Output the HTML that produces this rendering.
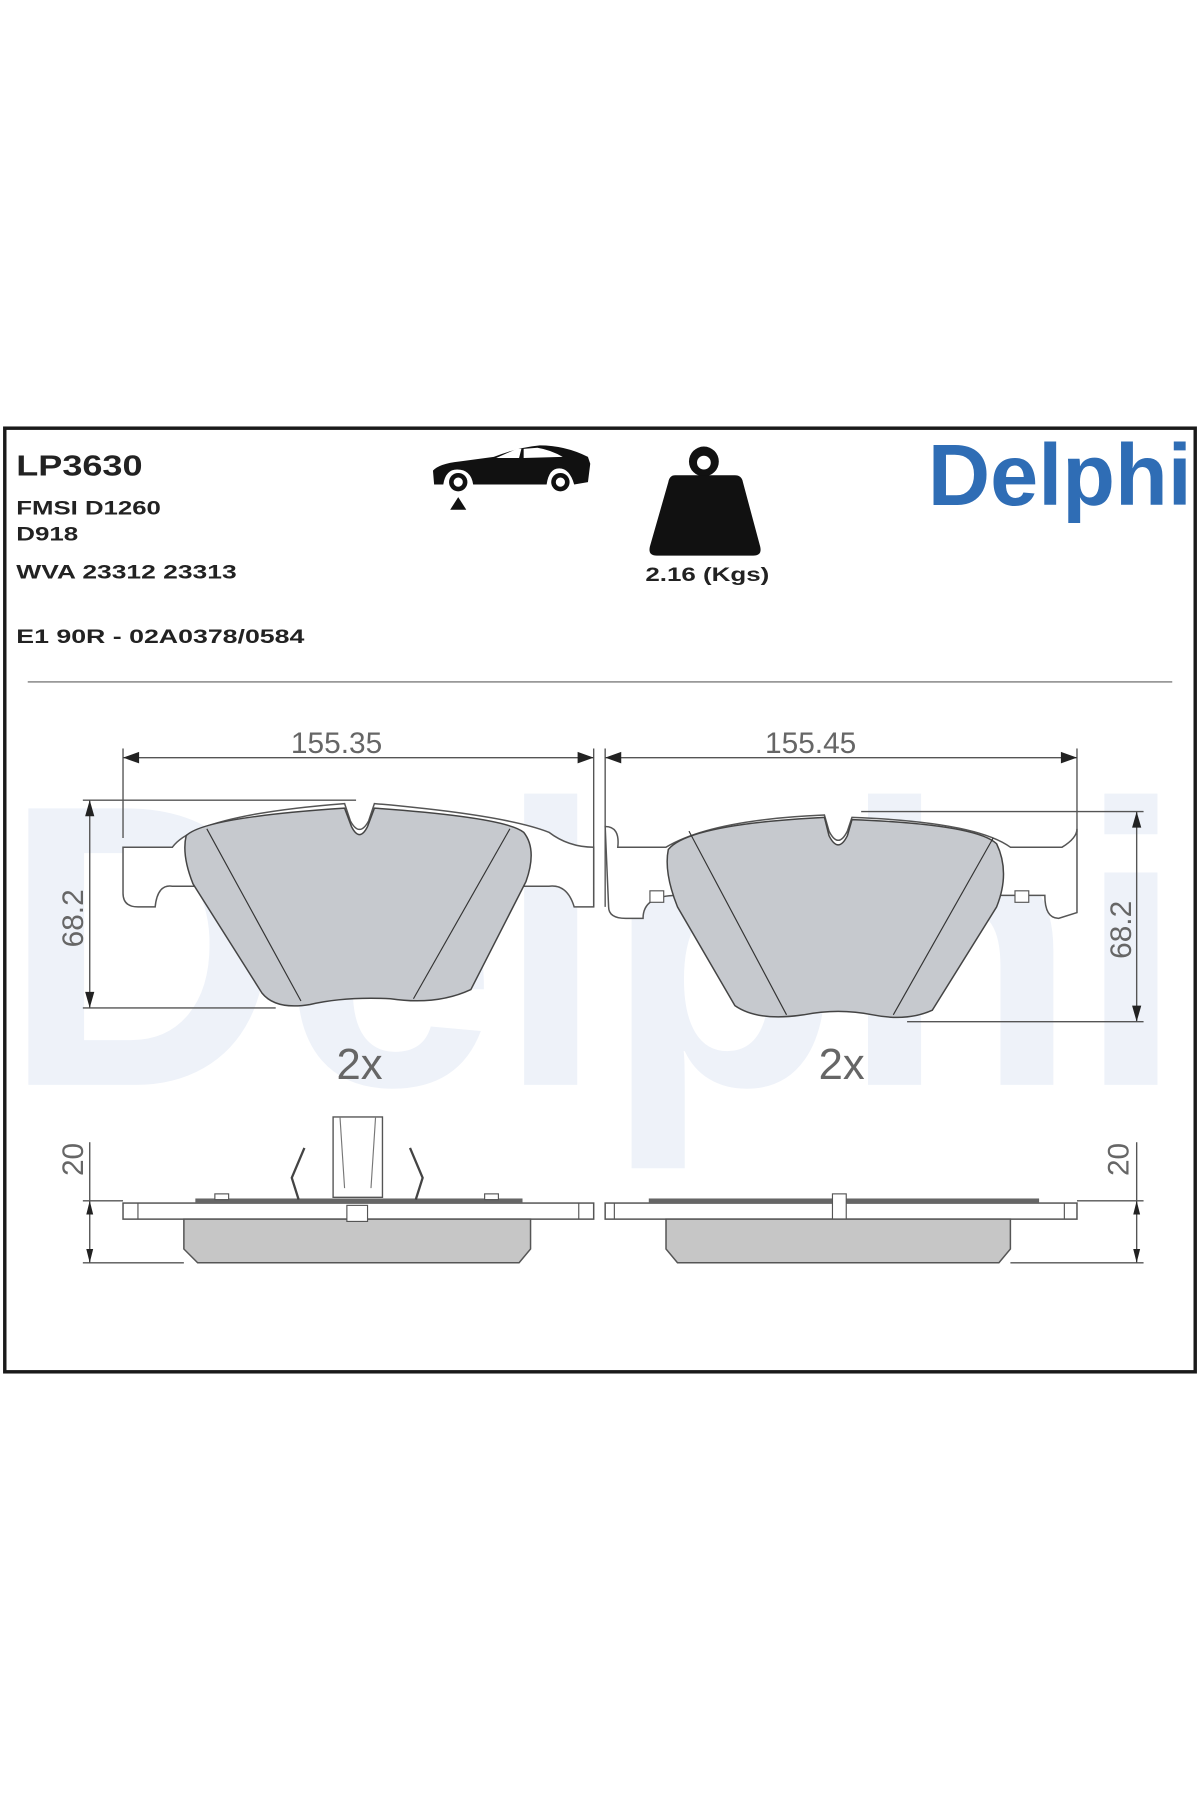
<!DOCTYPE html>
<html><head><meta charset="utf-8"><style>
html,body{margin:0;padding:0;background:#fff;}
svg{display:block;}
</style></head><body>
<svg width="1200" height="1800" viewBox="0 0 1045 1568" xmlns="http://www.w3.org/2000/svg" font-family="Liberation Sans, sans-serif">
<rect width="1045" height="1568" fill="#fff"/>
<!-- watermark -->
<text x="2" y="945" font-size="350" font-weight="bold" fill="#eef2f9" textLength="1030" lengthAdjust="spacingAndGlyphs">Delphi</text>
<!-- border -->
<rect x="4" y="373" width="1037" height="822" fill="none" stroke="#1a1a1a" stroke-width="3"/>
<!-- header texts -->
<g font-weight="bold" fill="#222">
<text x="14" y="414" font-size="25" textLength="110" lengthAdjust="spacingAndGlyphs">LP3630</text>
<text x="14" y="448" font-size="17" textLength="126" lengthAdjust="spacingAndGlyphs">FMSI D1260</text>
<text x="14" y="471" font-size="17" textLength="54" lengthAdjust="spacingAndGlyphs">D918</text>
<text x="14" y="504" font-size="17" textLength="192" lengthAdjust="spacingAndGlyphs">WVA 23312 23313</text>
<text x="14" y="560" font-size="17" textLength="251" lengthAdjust="spacingAndGlyphs">E1 90R - 02A0378/0584</text>
<text x="562" y="506" font-size="17" textLength="108" lengthAdjust="spacingAndGlyphs">2.16 (Kgs)</text>
</g>
<!-- car -->
<path d="M378,422 L377,410 Q382,404 400,402 L430,398 Q450,390 470,388 Q492,388 512,398 L514,404 L512,420 L500,422 Q496,408 487,408 Q478,408 476,422 L412,422 Q410,409 398,409 Q388,409 386,422 Z" fill="#111"/>
<path d="M432,399 L450,391 L454,391 L452,399 Z M456,391 L468,390 Q480,392 490,398 L456,399 Z" fill="#fff"/>
<circle cx="399" cy="420" r="8" fill="#111"/><circle cx="399" cy="420" r="4" fill="#fff"/>
<circle cx="488" cy="420" r="8" fill="#111"/><circle cx="488" cy="420" r="4" fill="#fff"/>
<path d="M392,444 L399,433 L406,444 Z" fill="#111"/>
<!-- weight -->
<circle cx="613" cy="402" r="13" fill="#111"/><circle cx="613" cy="403" r="6" fill="#fff"/>
<path d="M588,414 L640,414 Q646,414 647,420 L662,476 Q664,484 656,484 L572,484 Q564,484 566,476 L582,420 Q583,414 588,414 Z" fill="#111"/>
<!-- logo -->
<text x="808" y="440" font-size="76" font-weight="bold" fill="#2f6db5" textLength="230" lengthAdjust="spacingAndGlyphs">Delphi</text>
<!-- separator -->
<line x1="24" y1="594" x2="1021" y2="594" stroke="#999" stroke-width="1.5"/>
<g stroke="#555" fill="none" stroke-width="1.2">
<!-- top dims -->
<line x1="107" y1="652" x2="107" y2="730"/><line x1="517" y1="652" x2="517" y2="790"/>
<line x1="527" y1="652" x2="527" y2="790"/><line x1="938" y1="652" x2="938" y2="725"/>
<line x1="107" y1="660" x2="517" y2="660"/><line x1="527" y1="660" x2="938" y2="660"/>
<line x1="78" y1="697" x2="78" y2="878"/><line x1="72" y1="697" x2="310" y2="697"/><line x1="72" y1="878" x2="240" y2="878"/>
<line x1="990" y1="707" x2="990" y2="890"/><line x1="750" y1="707" x2="996" y2="707"/><line x1="790" y1="890" x2="996" y2="890"/>
</g>
<g fill="#222">
<path d="M107,660 l14,-5 v10z M517,660 l-14,-5 v10z M527,660 l14,-5 v10z M938,660 l-14,-5 v10z"/>
<path d="M78,697 l-4,14 h8z M78,878 l-4,-14 h8z M990,707 l-4,14 h8z M990,890 l-4,-14 h8z"/>
</g>
<g fill="#666" font-size="26">
<text x="293" y="656" text-anchor="middle">155.35</text>
<text x="706" y="656" text-anchor="middle">155.45</text>
<text transform="translate(72,800) rotate(-90)" text-anchor="middle">68.2</text>
<text transform="translate(985,810) rotate(-90)" text-anchor="middle">68.2</text>
<text x="313" y="940" font-size="38" text-anchor="middle">2x</text>
<text x="733" y="940" font-size="38" text-anchor="middle">2x</text>
<text transform="translate(72,1010) rotate(-90)" text-anchor="middle">20</text>
<text transform="translate(983,1010) rotate(-90)" text-anchor="middle">20</text>
</g>
<!-- left pad plate -->
<path d="M107,738 L150,738 Q170,710 300,700 L305,715 Q313,730 321,715 L326,700 Q440,710 478,725 Q495,738 517,738 L517,790 L500,790 Q494,770 478,772 L150,772 Q137,770 135,790 L120,790 Q107,790 107,778 Z" fill="#fff" stroke="#555" stroke-width="1.3"/>
<path d="M162,728 Q178,712 300,704 L306,720 Q313,734 320,720 L326,704 Q440,712 456,725 Q468,740 458,768 L410,862 Q380,876 340,870 Q300,868 270,875 Q240,880 228,865 L168,770 Q158,745 162,728 Z" fill="#c6c9ce" stroke="#444" stroke-width="1.3"/>
<line x1="180" y1="722" x2="262" y2="872" stroke="#333"/><line x1="444" y1="722" x2="360" y2="870" stroke="#333"/>
<!-- right pad plate -->
<path d="M527,720 Q540,720 538,738 L580,738 Q620,714 718,710 L722,724 Q730,740 738,724 L742,712 Q850,716 880,738 L925,738 Q938,730 938,722 L938,795 L922,800 Q910,800 910,780 L880,780 L590,780 Q560,780 560,800 L545,800 Q530,800 530,790 Z" fill="#fff" stroke="#555" stroke-width="1.3"/>
<path d="M582,740 Q600,718 718,712 L722,728 Q730,744 738,728 L742,714 Q850,718 868,735 Q880,760 868,790 L812,880 Q790,890 760,884 Q730,878 700,884 Q660,890 640,876 L590,790 Q578,760 582,740 Z" fill="#c6c9ce" stroke="#444" stroke-width="1.3"/>
<line x1="600" y1="724" x2="685" y2="884" stroke="#333"/><line x1="865" y1="730" x2="778" y2="884" stroke="#333"/>
<rect x="566" y="776" width="12" height="10" fill="#fff" stroke="#555"/><rect x="884" y="776" width="12" height="10" fill="#fff" stroke="#555"/>
<!-- bottom side views -->
<g stroke="#555" fill="none" stroke-width="1.2">
<line x1="78" y1="995" x2="78" y2="1100"/><line x1="72" y1="1046" x2="107" y2="1046"/><line x1="72" y1="1100" x2="160" y2="1100"/>
<line x1="990" y1="995" x2="990" y2="1100"/><line x1="938" y1="1046" x2="996" y2="1046"/><line x1="880" y1="1100" x2="996" y2="1100"/>
</g>
<g fill="#222"><path d="M78,1046 l-3,12 h6z M78,1100 l-3,-12 h6z M990,1046 l-3,12 h6z M990,1100 l-3,-12 h6z"/></g>
<rect x="107" y="1048" width="410" height="14" fill="#fff" stroke="#555" stroke-width="1.3"/>
<line x1="120" y1="1048" x2="120" y2="1062" stroke="#555"/><line x1="504" y1="1048" x2="504" y2="1062" stroke="#555"/>
<rect x="170" y="1044" width="285" height="4" fill="#666"/>
<rect x="187" y="1040" width="12" height="5" fill="#fff" stroke="#555"/><rect x="422" y="1040" width="12" height="5" fill="#fff" stroke="#555"/>
<path d="M160,1062 L462,1062 L462,1088 L452,1100 L172,1100 L160,1088 Z" fill="#c6c6c6" stroke="#555" stroke-width="1.3"/>
<rect x="290" y="973" width="43" height="70" fill="#fff" stroke="#555" stroke-width="1.2"/>
<path d="M296,973 L300,1035 M327,973 L323,1035" stroke="#777" fill="none"/>
<path d="M265,1000 L254,1026 L260,1045 M357,1000 L368,1026 L362,1045" stroke="#444" fill="none" stroke-width="2"/>
<rect x="302" y="1050" width="18" height="14" fill="#fff" stroke="#555"/>
<rect x="527" y="1048" width="411" height="14" fill="#fff" stroke="#555" stroke-width="1.3"/>
<line x1="535" y1="1048" x2="535" y2="1062" stroke="#555"/><line x1="927" y1="1048" x2="927" y2="1062" stroke="#555"/>
<rect x="565" y="1044" width="340" height="4" fill="#666"/>
<rect x="725" y="1040" width="12" height="22" fill="#fff" stroke="#555"/>
<path d="M580,1062 L880,1062 L880,1088 L870,1100 L590,1100 L580,1088 Z" fill="#c6c6c6" stroke="#555" stroke-width="1.3"/>
</svg>
</body></html>
